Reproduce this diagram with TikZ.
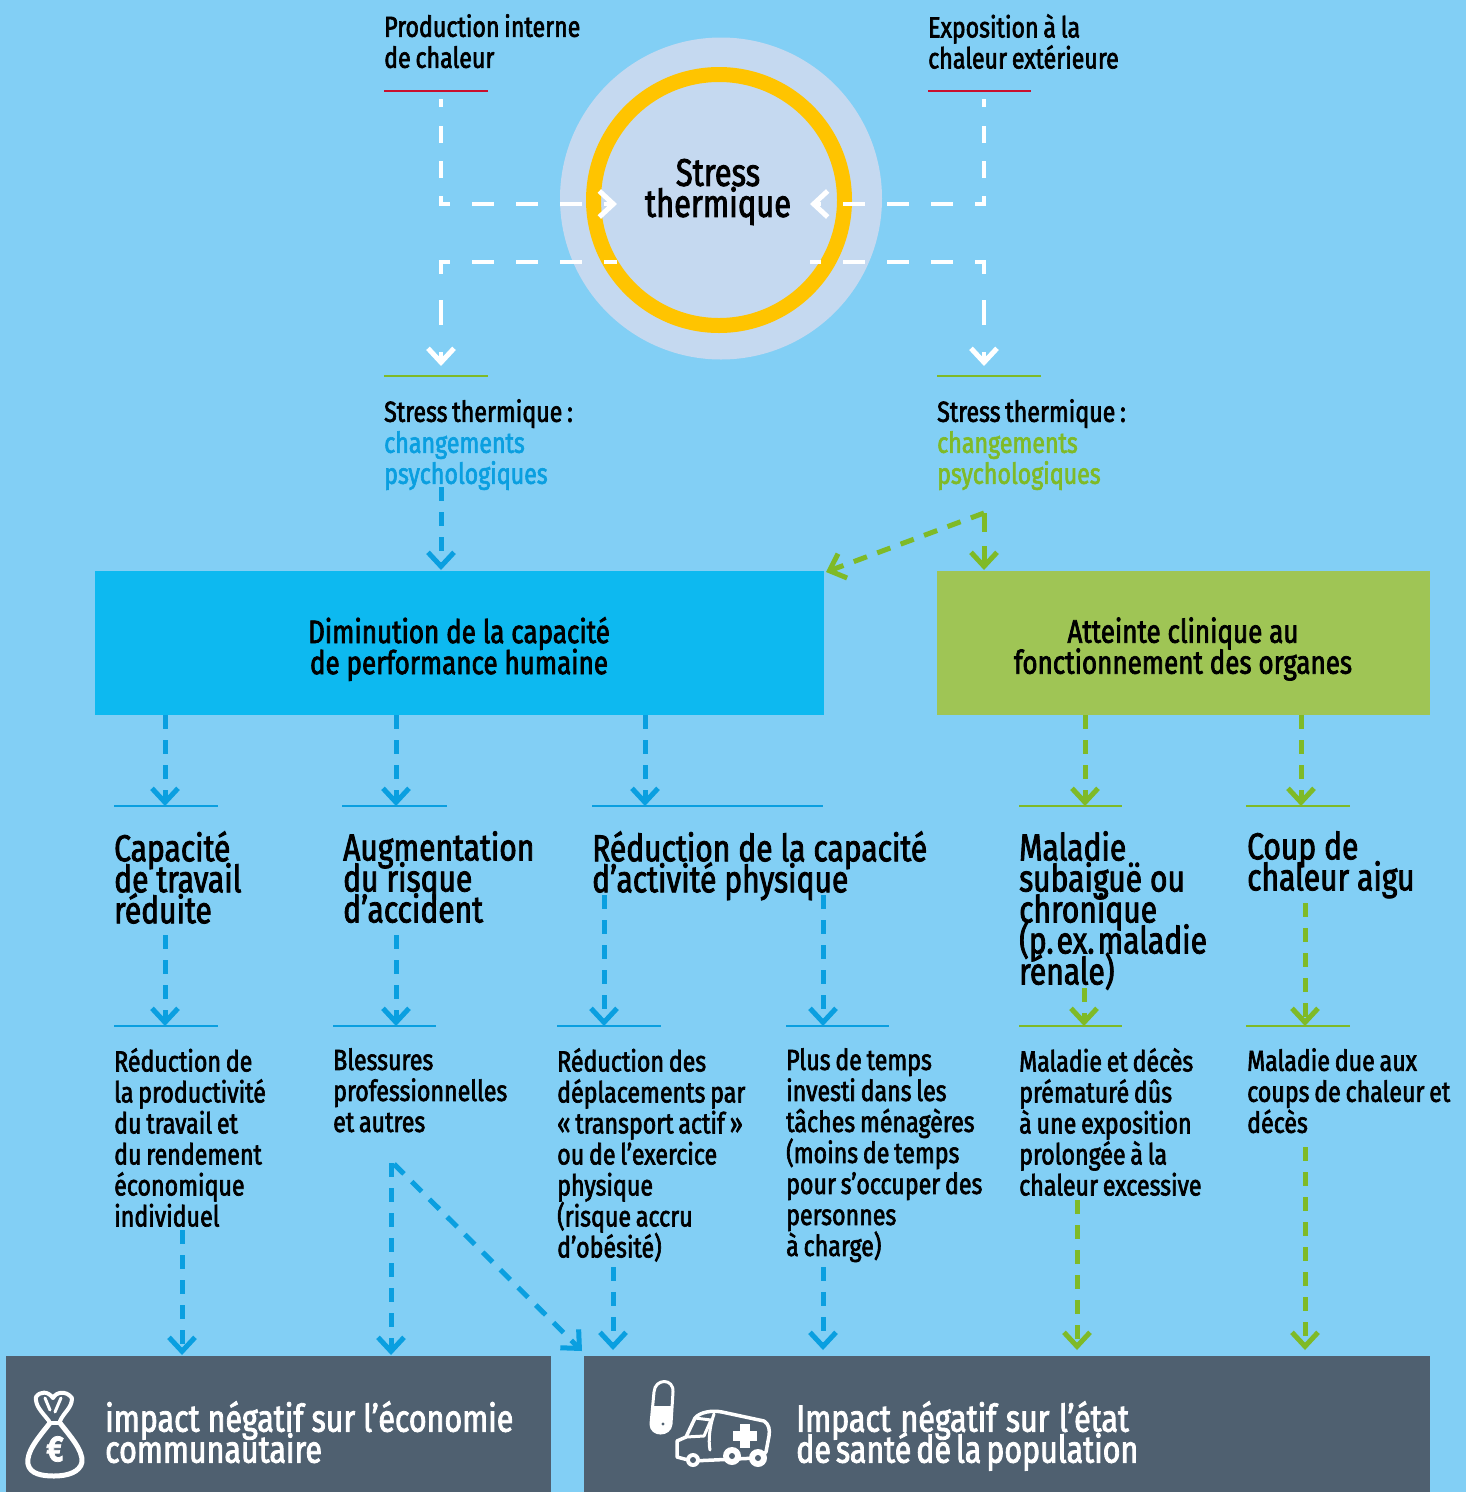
\documentclass[tikz,border=0pt]{standalone}
\usepackage{fontspec}
\setmainfont{Fira Sans}[FakeStretch=0.8,FakeBold=2.2]
\usetikzlibrary{arrows.meta}
\definecolor{bgc}{HTML}{82CFF5}
\definecolor{halo}{HTML}{C5D9F0}
\definecolor{ringc}{HTML}{FFC400}
\definecolor{boxb}{HTML}{0DB9F0}
\definecolor{boxg}{HTML}{9FC555}
\definecolor{arrb}{HTML}{0A9FE0}
\definecolor{arrg}{HTML}{7FBA27}
\definecolor{darkc}{HTML}{4F6070}
\definecolor{redc}{HTML}{C8102E}
\definecolor{txtb}{HTML}{0A9FE0}
\newcommand{\tightsize}[1]{\fontsize{#1}{31}\selectfont\lineskiplimit=-100pt\relax}
\newcommand{\smallsize}{\tightsize{29}\spaceskip=4.8pt\relax}
\tikzset{
 x=1pt,y=-1pt,
 smalltext/.style={font=\smallsize,align=left,inner sep=0pt,anchor=north west,text=black},
 bigtext/.style={font=\tightsize{37.5},align=left,inner sep=0pt,anchor=north west,text=black},
 boxtext/.style={font=\tightsize{32.5},align=center,inner sep=0pt,text=black},
 whitetext/.style={font=\tightsize{38},align=left,inner sep=0pt,anchor=north west,text=white},
 tipped/.style={-{Straight Barb[length=14pt,width=26pt,line width=5pt]}},
 wvert/.style={white,line width=4.5pt},
 whoriz/.style={white,line width=4.5pt,dash pattern=on 22pt off 22pt,dash phase=11pt},
 bflow/.style={arrb,line width=5pt,dash pattern=on 14pt off 11pt},
 gflow/.style={arrg,line width=5pt,dash pattern=on 14pt off 11pt},
 rulered/.style={redc,line width=2pt},
 ruleg/.style={arrg,line width=2pt},
 ruleb/.style={arrb,line width=2pt},
 iconline/.style={white,line width=4pt,line join=round,line cap=round},
}
\begin{document}
\begin{tikzpicture}
\useasboundingbox (0,0) rectangle (1466,1492);
\fill[bgc] (0,0) rectangle (1466,1492);
% circle
\fill[halo] (721,198.5) circle[radius=161];
\draw[ringc,line width=15pt] (719,200) circle[radius=125.5];
\node[font=\tightsize{38.5},align=center,inner sep=0pt] (stress) at (718,192) {Stress\\thermique};
% coordinates of connector ends
\coordinate (wa) at (441,98); \coordinate (wb) at (441,204); \coordinate (wc) at (617,204);
\coordinate (xa) at (984,98); \coordinate (xb) at (984,204); \coordinate (xc) at (810,204);
\coordinate (ya) at (617,262); \coordinate (yb) at (441,262); \coordinate (yc) at (441,366);
\coordinate (za) at (810,262); \coordinate (zb) at (984,262); \coordinate (zc) at (984,366);
\draw[wvert,dash pattern=on 10pt off 18pt on 17pt off 18pt on 17pt off 19pt on 8pt off 50pt] ([yshift=-2pt]wb) -- (wa);
\draw[wvert,dash pattern=on 10pt off 18pt on 17pt off 18pt on 17pt off 19pt on 8pt off 50pt] ([yshift=-2pt]xb) -- (xa);
\draw[whoriz,tipped] ([xshift=-2.2pt]wb) -- (wc);
\draw[whoriz,tipped] ([xshift=2.2pt]xb) -- (xc);
\draw[whoriz] ([xshift=-2.2pt]yb) -- (ya);
\draw[whoriz] ([xshift=2.2pt]zb) -- (za);
\draw[wvert,tipped,dash pattern=on 14pt off 26pt on 25pt off 27pt on 30pt off 10pt] ([yshift=2pt]yb) -- (yc);
\draw[wvert,tipped,dash pattern=on 14pt off 26pt on 25pt off 27pt on 30pt off 10pt] ([yshift=2pt]zb) -- (zc);
% top texts
\node[smalltext] (prod) at (384,14) {Production interne\\de chaleur};
\node[smalltext] (expo) at (928,14) {Exposition à la\\chaleur extérieure};
\draw[rulered] (384,91) -- (488,91);
\draw[rulered] (928,91) -- (1031,91);
\draw[ruleg] (384,376) -- (488,376);
\draw[ruleg] (937,376) -- (1041,376);
\node[smalltext] (sa) at (384,399) {Stress thermique\,:\\\textcolor{txtb}{changements}\\\textcolor{txtb}{psychologiques}};
\node[smalltext] (sb) at (937,399) {Stress thermique\,:\\\textcolor{arrg}{changements}\\\textcolor{arrg}{psychologiques}};
% boxes
\fill[boxb] (95,571) rectangle (824,715);
\fill[boxg] (937,571) rectangle (1430,715);
\node[boxtext] (boxa) at (459,649) {Diminution de la capacité\\de performance humaine};
\node[boxtext] (boxbb) at (1183,649) {Atteinte clinique au\\fonctionnement des organes};
\coordinate (ba) at (441,487); \coordinate (bb) at (441,570);
\coordinate (ga) at (984,513); \coordinate (gb) at (984,570); \coordinate (gc) at (826,572);
\draw[bflow,tipped] (ba) -- (bb);
\draw[gflow,tipped,dash pattern=on 19pt off 14pt on 20pt off 20pt] (ga) -- (gb);
\draw[gflow,tipped] (ga) -- (gc);
% row 1 arrows
\foreach \n/\x in {c1/165,c2/396,c3/645}{
 \coordinate (\n a) at (\x,715); \coordinate (\n b) at (\x,806);
 \draw[bflow,tipped] (\n a) -- (\n b);}
\foreach \n/\x in {c4/1085,c5/1301}{
 \coordinate (\n a) at (\x,715); \coordinate (\n b) at (\x,806);
 \draw[gflow,tipped] (\n a) -- (\n b);}
\foreach \a/\b in {114/218,342/447,592/823}{\draw[ruleb] (\a,806) -- (\b,806);}
\foreach \a/\b in {1019/1122,1246/1350}{\draw[ruleg] (\a,806) -- (\b,806);}
% row 2 arrows
\foreach \n/\x/\y in {d1/165/935,d2/396/935,d3/604/895,d4/823/895}{
 \coordinate (\n a) at (\x,\y); \coordinate (\n b) at (\x,1026);
 \draw[bflow,tipped] (\n a) -- (\n b);}
\foreach \n/\x/\y in {d5/1084/988,d6/1305/903}{
 \coordinate (\n a) at (\x,\y); \coordinate (\n b) at (\x,1026);
 \draw[gflow,tipped] (\n a) -- (\n b);}
\foreach \a/\b in {114/218,333/436,557/661,786/889}{\draw[ruleb] (\a,1026) -- (\b,1026);}
\foreach \a/\b in {1019/1122,1246/1350}{\draw[ruleg] (\a,1026) -- (\b,1026);}
% big texts
\node[bigtext] (t1) at (114,831) {Capacité\\de travail\\réduite};
\node[bigtext] (t2) at (343,831) {Augmentation\\du risque\\d’accident};
\node[bigtext] (t3) at (592,831) {Réduction de la capacité\\d’activité physique};
\node[bigtext] (t4) at (1019,831) {Maladie\\subaiguë ou\\chronique\\(p.\hspace{3pt}ex.\hspace{3pt}maladie\\rénale)};
\node[bigtext] (t5) at (1247,831) {Coup de\\chaleur aigu};
% small texts
\node[smalltext] (u1) at (114,1048) {Réduction de\\la productivité\\du travail et\\du rendement\\économique\\individuel};
\node[smalltext] (u2) at (333,1048) {Blessures\\professionnelles\\et autres};
\node[smalltext] (u3) at (557,1048) {Réduction des\\déplacements par\\«\,transport actif\,»\\ou de l’exercice\\physique\\(risque accru\\d’obésité)};
\node[smalltext] (u4) at (786,1048) {Plus de temps\\investi dans les\\tâches ménagères\\(moins de temps\\pour s’occuper des\\personnes\\à charge)};
\node[smalltext] (u5) at (1019,1048) {Maladie et décès\\prématuré dûs\\à une exposition\\prolongée à la\\chaleur excessive};
\node[smalltext] (u6) at (1247,1048) {Maladie due aux\\coups de chaleur et\\décès};
% bottom boxes
\fill[darkc] (6,1356) rectangle (551,1492);
\fill[darkc] (584,1356) rectangle (1430,1492);
\foreach \n/\x/\y/\z in {e1/182/1230/1355,e2/391/1163/1355,e4/613/1267/1350,e5/823/1267/1350}{
 \coordinate (\n a) at (\x,\y); \coordinate (\n b) at (\x,\z);
 \draw[bflow,tipped] (\n a) -- (\n b);}
\coordinate (e3a) at (394,1164);
\coordinate (e3b) at (582,1351);
\draw[bflow,tipped] (e3a) -- (e3b);
\foreach \n/\x/\y in {f1/1077/1200,f2/1305/1147}{
 \coordinate (\n a) at (\x,\y); \coordinate (\n b) at (\x,1350);
 \draw[gflow,tipped] (\n a) -- (\n b);}
\node[whitetext] (v1) at (105,1401) {impact négatif sur l’économie\\communautaire};
\node[whitetext] (v2) at (796,1401) {\spaceskip=9.5pt Impact négatif sur l’état\\\spaceskip=5pt de santé de la population};
% money bag
\draw[iconline,line width=5pt] (50,1423) .. controls (38,1438) and (26,1452) .. (28,1464) .. controls (30,1474) and (42,1476) .. (54,1476) .. controls (68,1476) and (80,1472) .. (82,1462) .. controls (83,1450) and (70,1436) .. (60,1423);
\draw[iconline] (49,1423) -- (60,1423);
\draw[iconline] (49,1421) .. controls (42,1412) and (35,1406) .. (36,1397) .. controls (40,1391) and (48,1391) .. (53,1398) .. controls (56,1392) and (66,1390) .. (72,1398) .. controls (72,1408) and (64,1412) .. (60,1421);
\draw[iconline,line width=3pt] (45,1398) -- (50,1410) (61,1398) -- (55,1412);
\node[font=\bfseries\fontsize{36}{36}\selectfont,text=white,inner sep=0pt] (euro) at (55,1449) {€};
% pill
\draw[iconline,line width=3pt] (654,1392) .. controls (655,1378) and (674,1378) .. (673,1392) -- (671,1424) .. controls (670,1436) and (651,1436) .. (651,1424) -- cycle;
\fill[white] (653,1406) -- (672,1406) -- (671,1424) .. controls (670,1436) and (651,1436) .. (651,1424) -- cycle;
\fill[darkc] (663,1424) circle[radius=1.6];
% ambulance
\draw[iconline,line width=3.5pt] (677,1457) -- (677,1441) -- (686,1437) -- (695,1418) .. controls (700,1412) and (712,1410) .. (722,1412) -- (764,1421) .. controls (769,1424) and (770,1430) .. (769,1436) -- (766,1452) -- (757,1458) -- (692,1461) -- cycle;
\draw[iconline,line width=3pt] (686,1437) -- (704,1436) -- (711,1420) -- (695,1418);
\draw[iconline,line width=3pt] (714,1414) .. controls (710,1425) and (708,1440) .. (710,1450);
\fill[white] (740,1424) rectangle (750,1448);
\fill[white] (733,1431) rectangle (757,1441);
\foreach \cx/\cy/\r in {693/1460/7,732/1456/9,758/1458/9}{
 \fill[white] (\cx,\cy) circle[radius=\r];
 \fill[darkc] (\cx,\cy) circle[radius=3];}
\fill[darkc] (683,1448) circle[radius=2.5];
\fill[darkc] (701,1447) circle[radius=2];
\end{tikzpicture}
\end{document}
